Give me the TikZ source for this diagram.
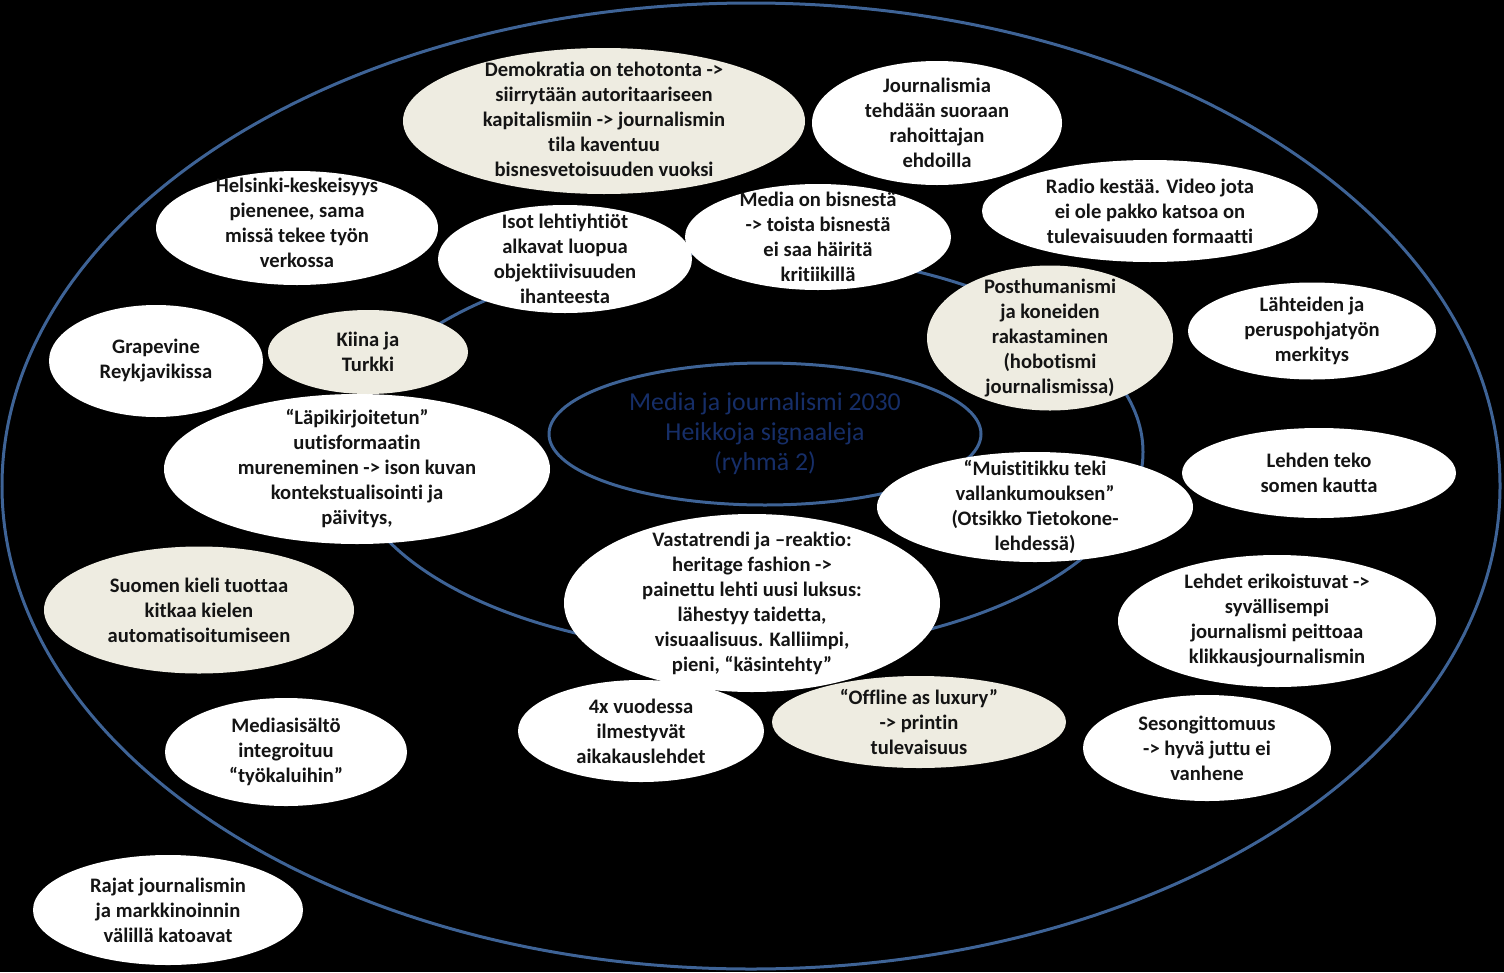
\documentclass[tikz,border=0pt]{standalone}
\usepackage{fontspec}
\setmainfont{Carlito}[Ligatures=NoCommon]
\usetikzlibrary{shapes.geometric}

\definecolor{ringblue}{RGB}{62,99,150}
\definecolor{titleblue}{RGB}{22,46,104}
\definecolor{paper}{RGB}{238,236,225}

\tikzset{
  ring/.style={draw=ringblue, line width=3},
  idea/.style={ellipse, fill=white, inner sep=0pt},
  ideabeige/.style={idea, fill=paper},
  ideatext/.style={align=center, font=\bfseries\fontsize{20.6}{25}\selectfont, text=black!92, inner sep=0pt},
}

\begin{document}
\begin{tikzpicture}[x=1pt, y=-1pt]
    % Background and frame
    \fill[black] (0,0) rectangle (1504,972);
    \useasboundingbox (0,0) rectangle (1504,972);

    % Rings
    \draw[ring] (751,486) ellipse [x radius=749, y radius=483];
    \draw[ring] (745,452) ellipse [x radius=398, y radius=200];
    \node[ellipse, ring, minimum width=432, minimum height=142, inner sep=0pt, align=center,
          font=\fontsize{25.8}{30}\selectfont, text=titleblue] (core) at (765,434)
          {Media ja journalismi 2030\\Heikkoja signaaleja\\(ryhmä 2)};

    % Top row
    \node[ideabeige, minimum width=402, minimum height=146,
          label={[ideatext, yshift=2]center:{Demokratia on tehotonta ->\\siirrytään autoritaariseen\\kapitalismiin -> journalismin\\tila kaventuu\\bisnesvetoisuuden vuoksi}}] (demokratia) at (604,121) {};
    \node[idea, minimum width=250, minimum height=124,
          label={[ideatext]center:{Journalismia\\tehdään suoraan\\rahoittajan\\ehdoilla}}] (rahoittaja) at (937,123) {};
    \node[idea, minimum width=282, minimum height=114,
          label={[ideatext, yshift=5]center:{Helsinki-keskeisyys\\pienenee, sama\\missä tekee työn\\verkossa}}] (helsinki) at (297,228) {};
    \node[idea, minimum width=254, minimum height=108,
          label={[ideatext]center:{Isot lehtiyhtiöt\\alkavat luopua\\objektiivisuuden\\ihanteesta}}] (lehtiyhtiot) at (565,259) {};
    \node[idea, minimum width=266, minimum height=106,
          label={[ideatext]center:{Media on bisnestä\\-> toista bisnestä\\ei saa häiritä\\kritiikillä}}] (bisnes) at (818,237) {};
    \node[idea, minimum width=336, minimum height=102,
          label={[ideatext]center:{Radio kestää. Video jota\\ei ole pakko katsoa on\\tulevaisuuden formaatti}}] (radio) at (1150,211) {};

    % Middle band
    \node[ideabeige, minimum width=246, minimum height=145,
          label={[ideatext]center:{Posthumanismi\\ja koneiden\\rakastaminen\\(hobotismi\\journalismissa)}}] (posthuman) at (1050,338) {};
    \node[idea, minimum width=248, minimum height=97,
          label={[ideatext]center:{Lähteiden ja\\peruspohjatyön\\merkitys}}] (lahteet) at (1312,331) {};
    \node[idea, minimum width=214, minimum height=112,
          label={[ideatext]center:{Grapevine\\Reykjavikissa}}] (grapevine) at (156,361) {};
    \node[idea, minimum width=386, minimum height=150,
          label={[ideatext]center:{“Läpikirjoitetun”\\uutisformaatin\\mureneminen -> ison kuvan\\kontekstualisointi ja\\päivitys,}}] (lapikirj) at (357,469) {};
    \node[ideabeige, minimum width=200, minimum height=84,
          label={[ideatext]center:{Kiina ja\\Turkki}}] (kiina) at (368,352) {};
    \node[idea, minimum width=274, minimum height=90,
          label={[ideatext]center:{Lehden teko\\somen kautta}}] (lehdenteko) at (1319,473) {};
    \node[idea, minimum width=316, minimum height=110,
          label={[ideatext]center:{“Muistitikku teki\\vallankumouksen”\\(Otsikko Tietokone-\\lehdessä)}}] (muistitikku) at (1035,507) {};

    % Lower band
    \node[ideabeige, minimum width=310, minimum height=127,
          label={[ideatext]center:{Suomen kieli tuottaa\\kitkaa kielen\\automatisoitumiseen}}] (suomi) at (199,610) {};
    \node[idea, minimum width=318, minimum height=132,
          label={[ideatext]center:{Lehdet erikoistuvat ->\\syvällisempi\\journalismi peittoaa\\klikkausjournalismin}}] (lehdet) at (1277,621) {};
    \node[idea, minimum width=246, minimum height=102,
          label={[ideatext]center:{4x vuodessa\\ilmestyvät\\aikakauslehdet}}] (nelja) at (641,731) {};
    \node[idea, minimum width=376, minimum height=178,
          label={[ideatext]center:{Vastatrendi ja –reaktio:\\heritage fashion ->\\painettu lehti uusi luksus:\\lähestyy taidetta,\\visuaalisuus. Kalliimpi,\\pieni, “käsintehty”}}] (vastatrendi) at (752,603) {};
    \node[ideabeige, minimum width=294, minimum height=92,
          label={[ideatext]center:{“Offline as luxury”\\-> printin\\tulevaisuus}}] (offline) at (919,722) {};
    \node[idea, minimum width=248, minimum height=106,
          label={[ideatext]center:{Sesongittomuus\\-> hyvä juttu ei\\vanhene}}] (sesonki) at (1207,748) {};
    \node[idea, minimum width=242, minimum height=108,
          label={[ideatext]center:{Mediasisältö\\integroituu\\“työkaluihin”}}] (mediasis) at (286,752) {};
    \node[idea, minimum width=270, minimum height=110,
          label={[ideatext]center:{Rajat journalismin\\ja markkinoinnin\\välillä katoavat}}] (rajat) at (168,910) {};

\end{tikzpicture}
\end{document}
